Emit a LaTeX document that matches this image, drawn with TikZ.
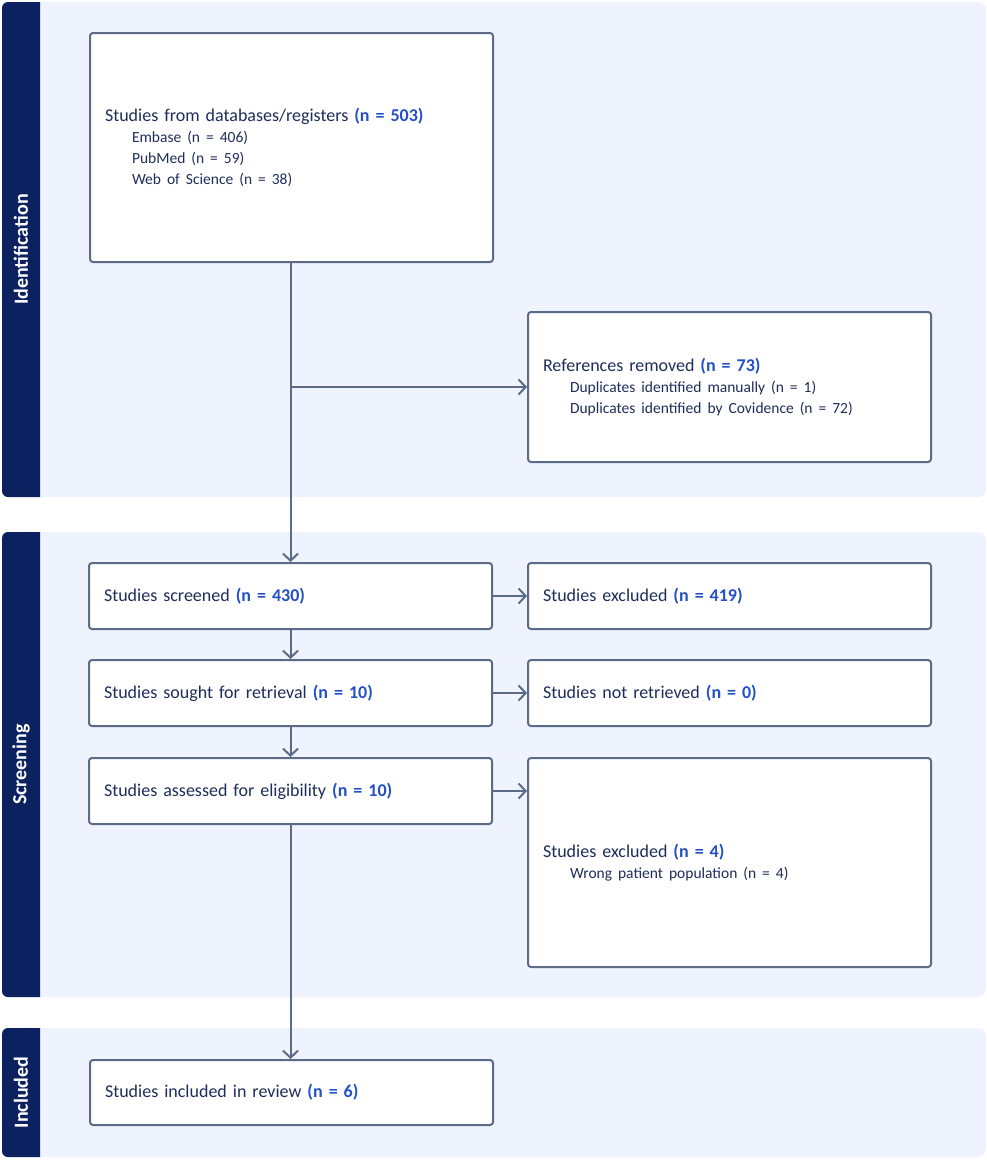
\documentclass[tikz,border=0pt]{standalone}
\usepackage{fontspec}
\setmainfont{Carlito}
\usetikzlibrary{arrows.meta}
\definecolor{bandbg}{HTML}{EEF3FD}
\definecolor{navy}{HTML}{0B2160}
\definecolor{edge}{HTML}{5B6B88}
\definecolor{txt}{HTML}{1F2D5A}
\definecolor{num}{HTML}{2350C8}
\newcommand{\nn}[1]{\textcolor{num}{\bfseries #1}}
\newcommand{\sub}[1]{\\\hspace*{27pt}{\fontsize{15.5}{21}\selectfont #1}}
\tikzset{
  box/.style={draw=edge, fill=white, line width=2pt, rounded corners=3pt, inner xsep=15pt,
    align=left, text=txt, font=\fontsize{18}{21}\selectfont},
  arr/.style={draw=edge, line width=2pt, -{Straight Barb[length=7pt,width=15pt,line width=2pt]}},
  sidelabel/.style={rotate=90, text=white, font=\fontsize{20}{22}\selectfont\bfseries},
}
\begin{document}
\begin{tikzpicture}[x=1pt,y=-1pt]
\useasboundingbox (0,0) rectangle (986,1160);
\fill[white] (0,0) rectangle (986,1160);
% bands
\fill[bandbg, rounded corners=8pt] (2,2) rectangle (986,497);
\fill[bandbg, rounded corners=8pt] (2,532) rectangle (986,997);
\fill[bandbg, rounded corners=8pt] (2,1028) rectangle (986,1157);
\fill[navy] (40,2) [rounded corners=6pt]-- (2,2) -- (2,497) [sharp corners]-- (40,497) -- cycle;
\fill[navy] (40,532) [rounded corners=6pt]-- (2,532) -- (2,997) [sharp corners]-- (40,997) -- cycle;
\fill[navy] (40,1028) [rounded corners=6pt]-- (2,1028) -- (2,1157) [sharp corners]-- (40,1157) -- cycle;
\node[sidelabel] (lid) at (21,249.5) {Identification};
\node[sidelabel] (lsc) at (21,764.5) {Screening};
\node[sidelabel] (lin) at (21,1092.5) {Included};
% boxes
\node[box, minimum width=403pt, minimum height=229pt, text width=373pt] (db) at (291.5,147.5)
  {Studies from databases/registers \nn{(n = 503)}\sub{Embase (n = 406)}\sub{PubMed (n = 59)}\sub{Web of Science (n = 38)}};
\node[box, minimum width=403pt, minimum height=150pt, text width=373pt] (ref) at (729.5,387)
  {References removed \nn{(n = 73)}\sub{Duplicates identified manually (n = 1)}\sub{Duplicates identified by Covidence (n = 72)}};
\node[box, minimum width=403pt, minimum height=66pt, text width=373pt] (scr) at (290.5,596)
  {Studies screened \nn{(n = 430)}};
\node[box, minimum width=403pt, minimum height=66pt, text width=373pt] (exa) at (729.5,596)
  {Studies excluded \nn{(n = 419)}};
\node[box, minimum width=403pt, minimum height=66pt, text width=373pt] (sgt) at (290.5,693)
  {Studies sought for retrieval \nn{(n = 10)}};
\node[box, minimum width=403pt, minimum height=66pt, text width=373pt] (nrt) at (729.5,693)
  {Studies not retrieved \nn{(n = 0)}};
\node[box, minimum width=403pt, minimum height=66pt, text width=373pt] (ass) at (290.5,791)
  {Studies assessed for eligibility \nn{(n = 10)}};
\node[box, minimum width=403pt, minimum height=209pt, text width=373pt] (exb) at (729.5,862.5)
  {Studies excluded \nn{(n = 4)}\sub{Wrong patient population (n = 4)}};
\node[box, minimum width=403pt, minimum height=65pt, text width=373pt] (inc) at (291.5,1092.5)
  {Studies included in review \nn{(n = 6)}};
% connectors
\draw[arr] (db.south -| scr.north) -- (scr.north);
\draw[arr] (scr.north |- ref.west) -- (ref.west);
\draw[arr] (scr.east) -- (exa.west);
\draw[arr] (scr.south) -- (sgt.north);
\draw[arr] (sgt.east) -- (nrt.west);
\draw[arr] (sgt.south) -- (ass.north);
\draw[arr] (ass.east) -- (ass.east -| exb.west);
\draw[arr] (ass.south) -- (ass.south |- inc.north);
\end{tikzpicture}
\end{document}
